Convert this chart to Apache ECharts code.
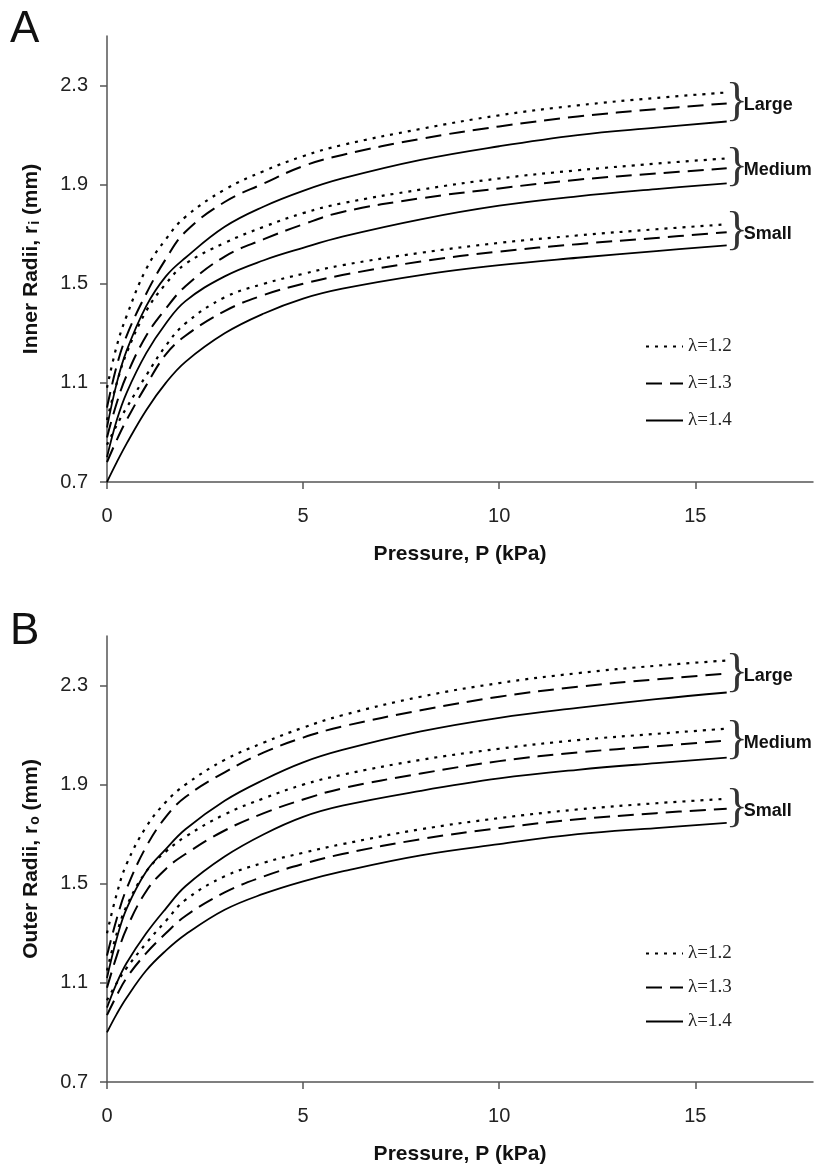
<!DOCTYPE html>
<html>
<head>
    <meta charset="utf-8"/>
    <title>Radii vs pressure</title>
    <script src="https://cdn.jsdelivr.net/npm/echarts@6/dist/echarts.min.js"></script>
    <style>
        html, body {margin: 0; padding: 0; background: #fff;}
        #chart {width: 814px; height: 1173px;}
    </style>
</head>
<body>
<div id="chart"></div>
<script>
    // pressure points (kPa)
    const pressure = [0, 0.25, 0.5, 1, 1.5, 2, 3, 4, 5, 6, 8, 10, 12, 14, 15.8];

    // panel A - inner radii (mm)
    const innerLarge12 = [1.08, 1.25, 1.37, 1.56, 1.68, 1.77, 1.88, 1.955, 2.015, 2.06, 2.125, 2.18, 2.22, 2.25, 2.272];
    const innerLarge13 = [1.00, 1.17, 1.29, 1.46, 1.60, 1.71, 1.83, 1.905, 1.975, 2.02, 2.085, 2.135, 2.175, 2.205, 2.228];
    const innerLarge14 = [0.92, 1.10, 1.23, 1.41, 1.53, 1.605, 1.73, 1.812, 1.875, 1.925, 2.00, 2.055, 2.10, 2.13, 2.155];
    const innerMedium12 = [0.95, 1.10, 1.22, 1.39, 1.50, 1.58, 1.665, 1.73, 1.785, 1.825, 1.88, 1.925, 1.958, 1.985, 2.006];
    const innerMedium13 = [0.88, 1.02, 1.13, 1.29, 1.40, 1.49, 1.61, 1.68, 1.74, 1.79, 1.845, 1.885, 1.92, 1.945, 1.966];
    const innerMedium14 = [0.80, 0.95, 1.06, 1.22, 1.34, 1.43, 1.53, 1.595, 1.645, 1.69, 1.76, 1.815, 1.853, 1.882, 1.905];
    const innerSmall12 = [0.85, 0.93, 1.00, 1.13, 1.25, 1.34, 1.445, 1.50, 1.54, 1.575, 1.625, 1.665, 1.695, 1.72, 1.740];
    const innerSmall13 = [0.78, 0.87, 0.95, 1.09, 1.215, 1.29, 1.39, 1.455, 1.50, 1.535, 1.59, 1.63, 1.66, 1.685, 1.708];
    const innerSmall14 = [0.70, 0.78, 0.855, 0.99, 1.10, 1.185, 1.30, 1.38, 1.44, 1.48, 1.535, 1.575, 1.605, 1.632, 1.655];

    // panel B - outer radii (mm)
    const outerLarge12 = [1.30, 1.46, 1.58, 1.73, 1.83, 1.90, 2.00, 2.07, 2.13, 2.18, 2.255, 2.31, 2.35, 2.38, 2.401];
    const outerLarge13 = [1.21, 1.36, 1.48, 1.65, 1.77, 1.85, 1.95, 2.03, 2.09, 2.135, 2.20, 2.255, 2.295, 2.325, 2.348];
    const outerLarge14 = [1.12, 1.28, 1.40, 1.55, 1.64, 1.72, 1.835, 1.92, 1.99, 2.04, 2.115, 2.17, 2.21, 2.245, 2.272];
    const outerMedium12 = [1.15, 1.30, 1.41, 1.55, 1.63, 1.69, 1.78, 1.845, 1.90, 1.94, 2.00, 2.045, 2.08, 2.105, 2.126];
    const outerMedium13 = [1.08, 1.21, 1.32, 1.47, 1.56, 1.62, 1.715, 1.785, 1.84, 1.885, 1.945, 1.995, 2.03, 2.055, 2.078];
    const outerMedium14 = [1.00, 1.10, 1.18, 1.30, 1.40, 1.49, 1.61, 1.70, 1.77, 1.815, 1.875, 1.925, 1.96, 1.987, 2.009];
    const outerSmall12 = [1.03, 1.10, 1.16, 1.26, 1.35, 1.435, 1.53, 1.585, 1.625, 1.66, 1.72, 1.765, 1.80, 1.825, 1.843];
    const outerSmall13 = [0.97, 1.05, 1.12, 1.22, 1.30, 1.37, 1.465, 1.53, 1.58, 1.62, 1.68, 1.725, 1.76, 1.785, 1.803];
    const outerSmall14 = [0.90, 0.975, 1.04, 1.15, 1.23, 1.295, 1.395, 1.46, 1.51, 1.55, 1.615, 1.66, 1.70, 1.725, 1.746];

    const xTicks = [0, 5, 10, 15];
    const yTicks = [0.7, 1.1, 1.5, 1.9, 2.3];
    const lambdaNames = ['λ=1.2', 'λ=1.3', 'λ=1.4'];

    const sans = 'Liberation Sans, Arial, sans-serif';
    const serif = 'Liberation Serif, Times New Roman, serif';
    const styles = [
        {type: [3, 6], width: 2.2},
        {type: [16, 8], width: 2},
        {type: 'solid', width: 1.8}
    ];

    function makeSeries(values, idx, panel, groupName) {
        let s = {
            name: lambdaNames[idx],
            type: 'line',
            xAxisIndex: panel,
            yAxisIndex: panel,
            data: pressure.map((p, i) => [p, values[i]]),
            symbol: 'none',
            smooth: 0.4,
            itemStyle: {color: 'rgba(0,0,0,0)'},
            lineStyle: {color: '#000', width: styles[idx].width, type: styles[idx].type},
            silent: true
        };
        if (groupName) {
            // brace + size label at the end of the middle (dashed) curve
            s.endLabel = {
                show: true,
                distance: -1,
                formatter: '}{t|' + groupName + '}',
                fontFamily: serif,
                fontSize: 46,
                color: '#333',
                rich: {
                    t: {fontFamily: sans, fontSize: 18, fontWeight: 'bold', color: '#111', padding: [4, 0, 0, -4]}
                }
            };
        }
        return s;
    }

    function xAxisOf(gridIndex) {
        return {
            type: 'value', gridIndex: gridIndex, min: 0, max: 18,
            name: 'Pressure, P (kPa)', nameLocation: 'middle', nameGap: 62,
            nameTextStyle: {fontFamily: sans, fontSize: 21, fontWeight: 'bold', color: '#111'},
            axisLine: {lineStyle: {color: '#555', width: 1.5}},
            axisTick: {show: true, length: 7, customValues: xTicks, lineStyle: {color: '#555', width: 1.5}},
            axisLabel: {customValues: xTicks, margin: 24, fontFamily: sans, fontSize: 20, color: '#222'},
            splitLine: {show: false}
        };
    }

    function yAxisOf(gridIndex, sub, word) {
        return {
            type: 'value', gridIndex: gridIndex, min: 0.7, max: 2.5,
            name: '{a|' + word + ' Radii, r}{s|' + sub + '}{a| (mm)}', nameLocation: 'middle', nameGap: 65,
            nameTextStyle: {
                rich: {
                    a: {fontFamily: sans, fontSize: 21, fontWeight: 'bold', color: '#111'},
                    s: {fontFamily: sans, fontSize: 14, fontWeight: 'bold', color: '#111', verticalAlign: 'bottom', padding: [0, 0, 0, 1]}
                }
            },
            axisLine: {show: true, lineStyle: {color: '#555', width: 1.5}},
            axisTick: {show: true, length: 7, customValues: yTicks, lineStyle: {color: '#555', width: 1.5}},
            axisLabel: {customValues: yTicks, margin: 19, fontFamily: sans, fontSize: 20, color: '#222',
                formatter: v => v.toFixed(1)},
            splitLine: {show: false}
        };
    }

    function legendOf(top, gap) {
        return {
            data: lambdaNames, orient: 'vertical', left: 645, top: top, padding: 0,
            itemGap: gap, itemWidth: 37, itemHeight: 14, selectedMode: false,
            itemStyle: {opacity: 0},
            textStyle: {fontFamily: serif, fontSize: 19, color: '#222', padding: [0, 0, 0, 0]}
        };
    }

    const series = [
        makeSeries(innerLarge12, 0, 0), makeSeries(innerLarge13, 1, 0, 'Large'), makeSeries(innerLarge14, 2, 0),
        makeSeries(innerMedium12, 0, 0), makeSeries(innerMedium13, 1, 0, 'Medium'), makeSeries(innerMedium14, 2, 0),
        makeSeries(innerSmall12, 0, 0), makeSeries(innerSmall13, 1, 0, 'Small'), makeSeries(innerSmall14, 2, 0),
        makeSeries(outerLarge12, 0, 1), makeSeries(outerLarge13, 1, 1, 'Large'), makeSeries(outerLarge14, 2, 1),
        makeSeries(outerMedium12, 0, 1), makeSeries(outerMedium13, 1, 1, 'Medium'), makeSeries(outerMedium14, 2, 1),
        makeSeries(outerSmall12, 0, 1), makeSeries(outerSmall13, 1, 1, 'Small'), makeSeries(outerSmall14, 2, 1)
    ];

    const chart = echarts.init(document.getElementById('chart'));
    chart.setOption({
        animation: false,
        backgroundColor: '#fff',
        title: [
            {text: 'A', left: 10, top: 8, padding: 0, textStyle: {fontFamily: sans, fontSize: 44, fontWeight: 'normal', color: '#111'}},
            {text: 'B', left: 10, top: 610, padding: 0, textStyle: {fontFamily: sans, fontSize: 44, fontWeight: 'normal', color: '#111'}}
        ],
        legend: [legendOf(337, 18), legendOf(944, 15)],
        grid: [
            {left: 107, top: 36, width: 706, height: 446},
            {left: 107, top: 636, width: 706, height: 446}
        ],
        xAxis: [xAxisOf(0), xAxisOf(1)],
        yAxis: [yAxisOf(0, 'i', 'Inner'), yAxisOf(1, 'o', 'Outer')],
        series: series
    });
</script>
</body>
</html>
